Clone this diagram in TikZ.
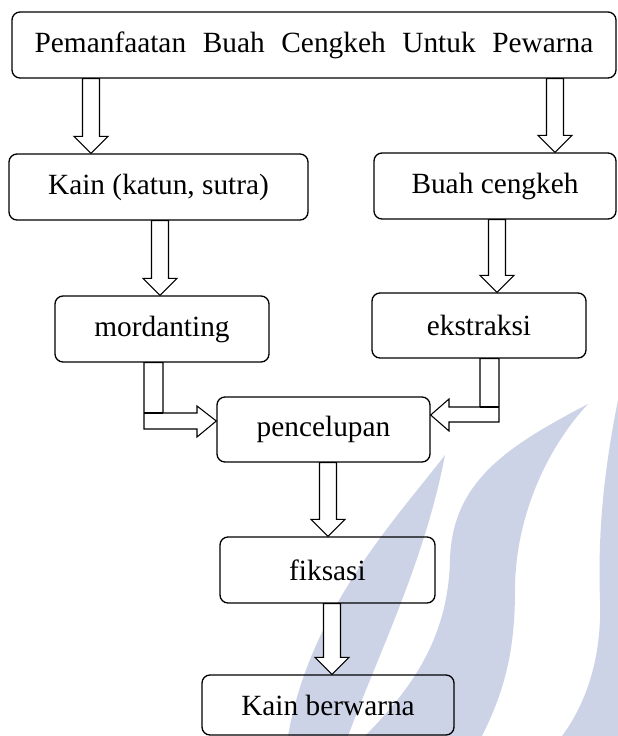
\documentclass[tikz,border=0pt]{standalone}
\usepackage{fontspec}
\setmainfont{Liberation Serif}
\usetikzlibrary{calc}
\definecolor{wmblue}{HTML}{CDD3E7}
\newcommand{\shaft}{8.5}
\newcommand{\headw}{17}
\newcommand{\headl}{17}
\tikzset{
  stepbox/.style  = {draw=black, line width=1pt, rounded corners=6pt, inner sep=0pt,
                     font=\fontsize{22}{26}\selectfont},
  blockarr/.style = {draw=black, fill=white, line width=0.8pt, line join=miter},
  wmark/.style    = {fill=wmblue},
}
% hollow down arrow from #1 to #2 at x = #3
\newcommand{\dnarrow}[3]{%
  \path (#1.south -| #3,0) coordinate (ds) (#2.north -| #3,0) coordinate (dt);
  \draw[blockarr] ($(ds)+(-\shaft,0)$) -- ($(dt)+(-\shaft,-\headl)$)
    -- ($(dt)+(-\headw,-\headl)$) -- (dt) -- ($(dt)+(\headw,-\headl)$)
    -- ($(dt)+(\shaft,-\headl)$) -- ($(ds)+(\shaft,0)$) -- cycle;}

\begin{document}
\begin{tikzpicture}[x=0.75pt, y=-0.75pt]
  \useasboundingbox (0,0) rectangle (618,736);
  % watermark
  \fill[wmark] (445,455) .. controls (395,520) and (310,610) .. (288,736)
    -- (348,736) .. controls (380,650) and (425,560) .. (445,455) -- cycle;
  \fill[wmark] (588,404) .. controls (510,445) and (452,480) .. (450,560)
    .. controls (448,640) and (410,690) .. (365,736) -- (482,736)
    .. controls (505,690) and (515,650) .. (515,590)
    .. controls (515,520) and (545,450) .. (588,404) -- cycle;
  \fill[wmark] (618,400) .. controls (602,480) and (598,540) .. (600,600)
    .. controls (602,660) and (585,705) .. (562,736) -- (618,736) -- cycle;

  \node[stepbox, minimum width=453pt, minimum height=49.5pt] (judul) at (314,45)
    {\makebox[419pt][s]{Pemanfaatan Buah Cengkeh Untuk Pewarna}};
  \node[stepbox, minimum width=224.25pt, minimum height=49.5pt] (kain) at (158.5,187) {Kain (katun, sutra)};
  \node[stepbox, minimum width=181.5pt, minimum height=49.5pt] (buah) at (495,186) {Buah cengkeh};
  \node[stepbox, minimum width=160.5pt, minimum height=49.5pt] (mord) at (162,329) {mordanting};
  \node[stepbox, minimum width=160.5pt, minimum height=48.75pt] (ekst) at (479,325.5) {ekstraksi};
  \node[stepbox, minimum width=159.75pt, minimum height=48.75pt] (celup) at (323.5,429.5) {pencelupan};
  \node[stepbox, minimum width=161.25pt, minimum height=49.5pt] (fiks) at (327.5,570) {fiksasi};
  \node[stepbox, minimum width=189pt, minimum height=45pt] (hasil) at (328,705) {Kain berwarna};

  \dnarrow{judul}{kain}{91}
  \dnarrow{judul}{buah}{555}
  \dnarrow{kain}{mord}{160}
  \dnarrow{buah}{ekst}{497}
  \dnarrow{celup}{fiks}{328}
  \dnarrow{fiks}{hasil}{332}

  % elbow arrows into pencelupan
  \coordinate (ml) at ($(mord.south)+(-18,0)$);
  \coordinate (mr) at ($(mord.south)+(1,0)$);
  \coordinate (el) at ($(ekst.south)+(1,0)$);
  \coordinate (er) at ($(ekst.south)+(20,0)$);
  \draw[blockarr] (ml) -- (ml |- 0,429) -- (197,429) -- (197,437)
    -- (celup.west |- 0,421) -- (197,406) -- (197,413) -- (mr |- 0,413)
    -- (mr) -- cycle;
  \draw[blockarr] (ml |- 0,413) -- (mr |- 0,413);
  \draw[blockarr] (er) -- (er |- 0,422) -- (449,422) -- (449,431)
    -- (celup.east |- 0,415) -- (449,399) -- (449,407) -- (el |- 0,407)
    -- (el) -- cycle;
  \draw[blockarr] (el |- 0,407) -- (er |- 0,407);
\end{tikzpicture}
\end{document}
